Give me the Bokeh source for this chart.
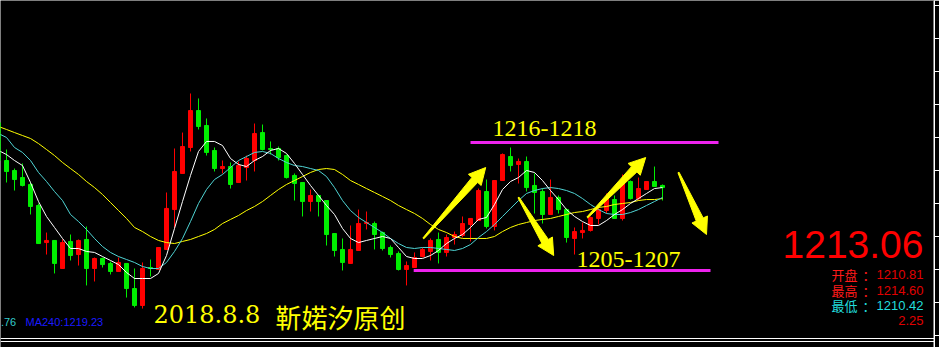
import numpy as np
from bokeh.plotting import figure
from bokeh.models import Range1d, LinearAxis, SingleIntervalTicker, Span, CustomJSTickFormatter
from bokeh.embed import file_html
from bokeh.resources import INLINE
from bokeh.core.properties import value

# ---------------- data ----------------
opens = [1219.36, 1215.91, 1215.00, 1214.36, 1213.73, 1211.82, 1208.45, 1208.64, 1206.09, 1208.55,
         1207.36, 1208.73, 1206.09, 1207.00, 1206.55, 1205.82, 1206.55, 1204.27, 1202.73, 1206.18,
         1206.00, 1207.82, 1211.45, 1214.73, 1217.09, 1220.45, 1219.09, 1216.82, 1215.18, 1215.36,
         1213.91, 1215.27, 1215.91, 1218.45, 1217.00, 1217.00, 1216.36, 1214.55, 1213.91, 1212.18,
         1212.73, 1212.27, 1209.27, 1207.82, 1206.55, 1207.73, 1210.18, 1210.18, 1209.36, 1208.00,
         1207.45, 1206.00, 1206.18, 1207.18, 1207.64, 1208.73, 1207.55, 1208.91, 1209.09, 1210.09,
         1210.45, 1213.09, 1209.91, 1214.09, 1216.27, 1215.55, 1215.82, 1213.64, 1213.09, 1211.00,
         1212.55, 1211.45, 1208.82, 1209.36, 1209.55, 1210.64, 1211.36, 1212.36, 1210.64, 1214.00,
         1212.45, 1213.27, 1214.00, 1213.64]
closes = [1215.91, 1214.91, 1214.18, 1213.64, 1211.73, 1208.36, 1208.64, 1206.55, 1208.45, 1207.27,
          1208.64, 1206.09, 1207.00, 1206.45, 1205.82, 1206.64, 1204.27, 1202.73, 1206.09, 1206.09,
          1208.00, 1211.55, 1214.91, 1217.18, 1220.45, 1219.00, 1216.64, 1215.18, 1215.36, 1213.73,
          1215.45, 1216.09, 1218.36, 1216.91, 1216.91, 1216.18, 1214.36, 1213.82, 1212.18, 1212.73,
          1212.18, 1209.18, 1207.73, 1206.64, 1207.82, 1210.18, 1210.27, 1209.18, 1207.91, 1207.36,
          1206.00, 1206.36, 1207.09, 1207.82, 1208.64, 1207.55, 1208.91, 1209.18, 1210.18, 1210.64,
          1213.18, 1209.91, 1214.09, 1216.45, 1215.45, 1215.82, 1213.45, 1213.00, 1211.00, 1212.55,
          1211.45, 1208.91, 1209.45, 1209.55, 1210.73, 1211.45, 1212.45, 1210.64, 1213.82, 1212.45,
          1213.36, 1214.00, 1213.55, 1213.45]
highs = [1219.55, 1216.91, 1215.18, 1215.64, 1213.91, 1212.00, 1209.36, 1208.64, 1208.73, 1209.18,
         1208.73, 1209.91, 1207.09, 1207.09, 1206.73, 1207.09, 1206.55, 1206.09, 1206.64, 1206.91,
         1208.00, 1213.00, 1217.00, 1218.45, 1222.00, 1221.55, 1219.73, 1217.09, 1215.91, 1215.73,
         1215.82, 1216.36, 1219.27, 1219.18, 1217.64, 1217.18, 1216.45, 1214.73, 1213.91, 1213.27,
         1212.73, 1212.27, 1209.27, 1208.82, 1210.00, 1211.45, 1211.27, 1210.36, 1209.45, 1208.18,
         1207.64, 1206.73, 1207.55, 1208.00, 1208.82, 1209.36, 1209.18, 1209.45, 1210.82, 1210.64,
         1213.36, 1214.18, 1214.09, 1216.55, 1217.09, 1216.09, 1216.27, 1214.73, 1213.36, 1214.18,
         1212.73, 1211.55, 1209.82, 1210.27, 1210.82, 1211.73, 1212.91, 1212.73, 1214.64, 1214.09,
         1214.36, 1214.00, 1215.36, 1213.73]
lows = [1215.73, 1213.91, 1213.18, 1213.55, 1211.00, 1208.36, 1207.36, 1205.64, 1206.09, 1206.82,
        1206.36, 1204.55, 1204.91, 1206.18, 1205.55, 1205.82, 1203.45, 1202.55, 1202.45, 1205.36,
        1206.00, 1207.82, 1209.73, 1214.73, 1216.73, 1218.73, 1216.36, 1214.91, 1214.73, 1213.36,
        1213.91, 1214.09, 1214.91, 1216.82, 1216.45, 1215.91, 1214.27, 1212.27, 1210.82, 1211.27,
        1210.82, 1208.18, 1207.18, 1205.91, 1206.55, 1207.73, 1209.64, 1207.82, 1207.73, 1207.09,
        1205.91, 1204.55, 1206.18, 1207.09, 1206.82, 1206.55, 1207.18, 1208.27, 1208.91, 1208.55,
        1210.45, 1209.73, 1209.55, 1214.09, 1214.91, 1213.82, 1213.09, 1211.09, 1210.18, 1211.00,
        1211.09, 1208.45, 1207.36, 1208.82, 1209.45, 1210.09, 1211.09, 1210.64, 1210.45, 1212.36,
        1212.27, 1213.27, 1213.55, 1212.27]

ma_white = [1216.82, 1216.45, 1215.91, 1215.45, 1213.91, 1212.18, 1210.82, 1209.82, 1208.82, 1207.91,
            1207.91, 1207.64, 1207.55, 1207.18, 1206.82, 1206.45, 1205.73, 1205.18, 1205.18, 1205.18,
            1205.64, 1207.27, 1209.73, 1212.18, 1214.55, 1216.73, 1217.64, 1217.64, 1217.27, 1216.09,
            1215.55, 1215.36, 1215.91, 1216.27, 1216.82, 1217.00, 1216.55, 1215.64, 1214.64, 1213.64,
            1212.73, 1211.82, 1211.00, 1209.73, 1208.82, 1208.45, 1208.64, 1208.82, 1209.00, 1208.82,
            1208.00, 1207.18, 1207.00, 1207.00, 1207.27, 1207.73, 1208.36, 1208.82, 1209.18, 1209.82,
            1210.55, 1210.73, 1211.91, 1213.27, 1214.00, 1214.36, 1215.00, 1214.82, 1214.09, 1213.18,
            1212.36, 1211.45, 1210.82, 1210.36, 1210.00, 1210.00, 1210.45, 1211.00, 1211.45, 1212.00,
            1212.45, 1212.91, 1213.36, 1213.45]
ma_cyan = [1218.36, 1218.00, 1217.09, 1216.64, 1215.91, 1214.82, 1214.00, 1213.09, 1212.27, 1211.00,
           1210.36, 1209.64, 1208.82, 1208.09, 1207.55, 1207.18, 1206.91, 1206.64, 1206.27, 1206.09,
           1206.09, 1206.64, 1207.64, 1208.82, 1210.36, 1212.00, 1213.27, 1214.18, 1214.64, 1215.27,
           1215.91, 1216.27, 1216.64, 1216.73, 1216.55, 1216.09, 1215.73, 1215.45, 1215.36, 1215.18,
           1215.00, 1214.45, 1213.45, 1212.27, 1211.36, 1210.73, 1210.27, 1209.82, 1209.36, 1208.82,
           1208.36, 1208.00, 1207.91, 1208.00, 1208.00, 1207.91, 1207.82, 1207.73, 1207.91, 1208.27,
           1208.91, 1209.45, 1210.09, 1210.82, 1211.55, 1212.27, 1212.91, 1213.18, 1213.36, 1213.45,
           1213.36, 1213.18, 1212.91, 1212.45, 1211.91, 1211.45, 1211.09, 1211.00, 1211.00, 1211.18,
           1211.45, 1211.82, 1212.18, 1212.55]
ma_yellow = [1219.00, 1218.73, 1218.45, 1218.18, 1217.91, 1217.45, 1216.91, 1216.36, 1215.73, 1215.18,
             1214.64, 1214.00, 1213.45, 1212.82, 1212.09, 1211.36, 1210.64, 1209.82, 1209.45, 1209.00,
             1208.64, 1208.45, 1208.36, 1208.55, 1208.73, 1209.00, 1209.27, 1209.64, 1210.18, 1210.55,
             1210.91, 1211.36, 1211.73, 1212.18, 1212.73, 1213.27, 1213.73, 1214.09, 1214.45, 1214.82,
             1215.09, 1215.18, 1215.09, 1214.64, 1214.09, 1213.73, 1213.36, 1213.00, 1212.64, 1212.27,
             1211.82, 1211.45, 1211.09, 1210.64, 1210.09, 1209.64, 1209.36, 1209.00, 1208.82, 1208.82,
             1208.82, 1208.82, 1209.00, 1209.45, 1209.82, 1210.09, 1210.27, 1210.45, 1210.55, 1210.64,
             1210.82, 1211.00, 1211.18, 1211.27, 1211.45, 1211.64, 1211.73, 1211.91, 1212.00, 1212.09,
             1212.27, 1212.36, 1212.36, 1212.45]

# annotation arrows: tail/tip as (bar index, price)
arrow_tail_i = [53.1, 65.0, 73.6, 85.0]
arrow_tail_p = [1208.82, 1212.55, 1210.73, 1214.82]
arrow_tip_i = [60.9, 69.4, 80.9, 88.5]
arrow_tip_p = [1215.27, 1207.27, 1216.18, 1209.18]

# horizontal target zones
zone_price = [1217.55, 1205.91]
zone_start = [59.0, 51.9]
zone_end = [90.0, 89.0]
zone_labels = ["1216-1218", "1205-1207"]

title_date = "2018.8.8"
title_author = "靳婼汐原创"
last_price = "1213.06"
quote_names = ["开盘", "最高", "最低"]
quote_values = ["1210.81", "1214.60", "1210.42"]
change_value = "2.25"
ma_label_cut = ".76"
ma_label_240 = "MA240:1219.23"

# ---------------- figure ----------------
X0, X1 = 0.25, 117.0
Y0, Y1 = 1198.909, 1230.4545
FW, FH = 934, 347

p = figure(frame_width=FW, frame_height=FH, x_range=Range1d(X0, X1), y_range=Range1d(Y0, Y1),
           output_backend="svg", toolbar_location=None, min_border=0,
           x_axis_location=None, y_axis_location=None,
           background_fill_color="black", border_fill_color="black", outline_line_color=None)
p.grid.visible = False

ax = LinearAxis(ticker=SingleIntervalTicker(interval=3), axis_line_color="white",
                major_tick_line_color="white", major_tick_out=5, major_tick_in=0,
                minor_tick_line_color=None, major_label_standoff=0,
                formatter=CustomJSTickFormatter(code="return ''"))
p.add_layout(ax, "right")

idx = np.arange(len(opens))
o = np.array(opens); c = np.array(closes); h = np.array(highs); l = np.array(lows)
up = c >= o
RED = "#ff0000"
GREEN = "#00ee00"
colors = [RED if u else GREEN for u in up]

p.segment(x0=idx, y0=l, x1=idx, y1=h, line_color=colors, line_width=1)
p.vbar(x=idx, width=0.5, top=np.maximum(o, c), bottom=np.minimum(o, c),
       fill_color=colors, line_color=colors, line_width=1)

p.line(idx, ma_yellow, line_color="#ffff00", line_width=1)
p.line(idx, ma_cyan, line_color="#4fd3d3", line_width=1)
p.line(idx, ma_white, line_color="#ffffff", line_width=1)

# zones
for pr, a, b in zip(zone_price, zone_start, zone_end):
    p.segment(x0=[a], y0=[pr], x1=[b], y1=[pr], line_color="#ee22ee", line_width=3)

p.text(x=[61.75], y=[1218.82], text=[zone_labels[0]], text_font=value("Liberation Serif"),
       text_font_size="24px", text_color="#ffff00", text_align="left", text_baseline="middle")
p.text(x=[72.25], y=[1206.91], text=[zone_labels[1]], text_font=value("Liberation Serif"),
       text_font_size="24px", text_color="#ffff00", text_align="left", text_baseline="middle")

# arrows
sx = FW / (X1 - X0)
sy = FH / (Y1 - Y0)
hl, hw, sw, tw = 16.5, 8.5, 3.8, 0.6
xs, ys = [], []
for ti, tp, hi, hp in zip(arrow_tail_i, arrow_tail_p, arrow_tip_i, arrow_tip_p):
    dx = (hi - ti) * sx
    dy = (hp - tp) * sy
    L = np.hypot(dx, dy)
    ux, uy = dx / L, dy / L
    vx, vy = -uy, ux
    loc = [(0, -tw), (L - hl, -sw), (L - hl, -hw), (L, 0), (L - hl, hw), (L - hl, sw), (0, tw)]
    xs.append([ti + (u * ux + v * vx) / sx for u, v in loc])
    ys.append([tp + (u * uy + v * vy) / sy for u, v in loc])
p.patches(xs, ys, fill_color="#ffff00", line_color="#ffff00", line_width=1)

# title
p.text(x=[19.375], y=[1201.91], text=[title_date], text_font=value("DejaVu Serif"),
       text_font_size="24px", text_color="#ffff00", text_align="left", text_baseline="middle")
p.text(x=[34.625], y=[1201.73], text=[title_author], text_font=value("Noto Sans CJK SC"),
       text_font_size="26px", text_color="#ffff00", text_align="left", text_baseline="middle")

# MA labels at bottom left
p.text(x=[0.3], y=[1201.27], text=[ma_label_cut], text_font=value("Liberation Sans"),
       text_font_size="11px", text_color="#33cccc", text_align="left", text_baseline="middle")
p.text(x=[3.375], y=[1201.27], text=[ma_label_240], text_font=value("Liberation Sans"),
       text_font_size="11px", text_color="#1a1aff", text_align="left", text_baseline="middle")

# quote panel
p.text(x=[115.625], y=[1208.23], text=[last_price], text_font=value("Liberation Sans"),
       text_font_size="39px", text_color="#ff0000", text_align="right", text_baseline="middle")
row_y = [1205.5, 1204.09, 1202.727]
name_colors = ["#ff1a1a", "#ff1a1a", "#22dddd"]
val_colors = ["#e00000", "#e00000", "#22dddd"]
p.text(x=[104.125] * 3, y=row_y, text=quote_names, text_font=value("Noto Sans CJK SC"),
       text_font_size="13px", text_color=name_colors, text_align="left", text_baseline="middle")
p.text(x=[108.0] * 3, y=row_y, text=["："] * 3, text_font=value("Noto Sans CJK SC"),
       text_font_size="13px", text_color=name_colors, text_align="left", text_baseline="middle")
p.text(x=[115.625] * 3, y=row_y, text=quote_values, text_font=value("Liberation Sans"),
       text_font_size="13px", text_color=val_colors, text_align="right", text_baseline="middle")
p.text(x=[115.625], y=[1201.364], text=[change_value], text_font=value("Liberation Sans"),
       text_font_size="13px", text_color="#e00000", text_align="right", text_baseline="middle")

# bottom double frame line and price-panel edge
p.add_layout(Span(location=1199.727, dimension="width", line_color="white", line_width=1))
p.add_layout(Span(location=1199.4545, dimension="width", line_color="white", line_width=1))
p.add_layout(Span(location=X1 - 0.06, dimension="height", line_color="white", line_width=1))

open("out.html", "w").write(file_html(p, INLINE))
